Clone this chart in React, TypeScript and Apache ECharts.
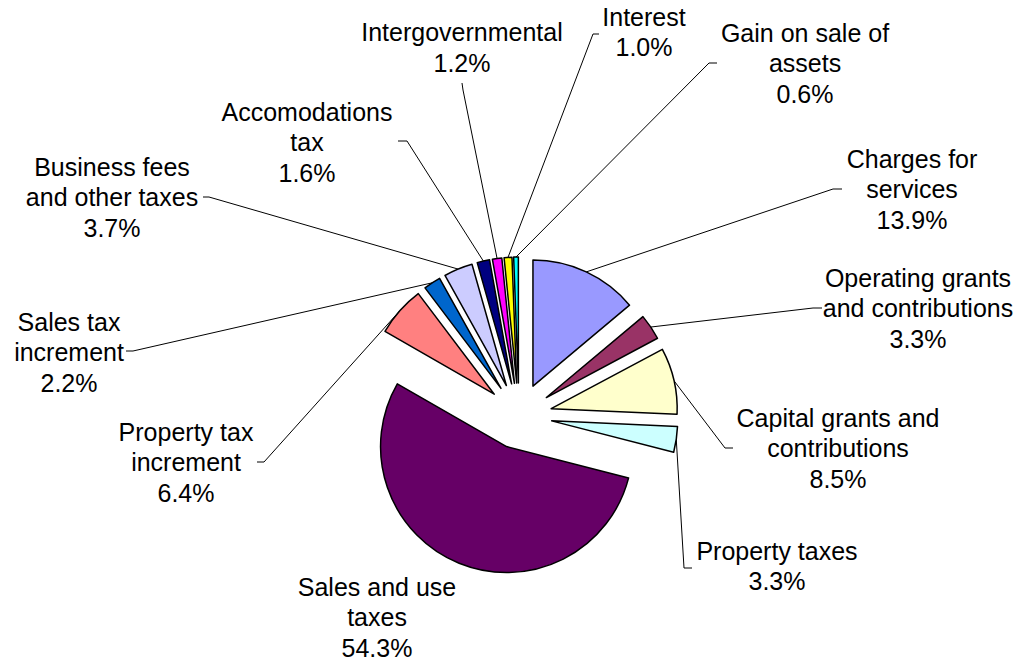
import { useEffect, useRef } from 'react';
import * as echarts from 'echarts';

// ---- data ----
const categories: string[] = [
  'Charges for\nservices',
  'Operating grants\nand contributions',
  'Capital grants and\ncontributions',
  'Property taxes',
  'Sales and use\ntaxes',
  'Property tax\nincrement',
  'Sales tax\nincrement',
  'Business fees\nand other taxes',
  'Accomodations\ntax',
  'Intergovernmental',
  'Interest',
  'Gain on sale of\nassets',
];
const shares: number[] = [13.9, 3.3, 8.5, 3.3, 54.3, 6.4, 2.2, 3.7, 1.6, 1.2, 1.0, 0.6];

// ---- styles ----
const colors: string[] = [
  '#9999FF', '#993366', '#FFFFCC', '#CCFFFF', '#660066', '#FF8080',
  '#0066CC', '#CCCCFF', '#000080', '#FF00FF', '#FFFF00', '#00FFFF',
];

// ---- layout ----
const PIE_CENTER = [519, 416];
const PIE_RADIUS = 126;
const EXPLODE = 33;
const FONT = 'Arial, "Liberation Sans", sans-serif';

type Placement = { x: number; y: number; elbow: number[] | null; end: number[] | null };
const labelPlacement: Placement[] = [
  { x: 912, y: 189, elbow: [833, 189], end: [842, 189] },
  { x: 918, y: 308, elbow: [813, 308], end: [822, 308] },
  { x: 838, y: 448, elbow: [725, 448], end: [733, 448] },
  { x: 777, y: 566, elbow: [684, 568], end: [692, 568] },
  { x: 377, y: 617, elbow: null, end: null },
  { x: 186, y: 462, elbow: [264, 462], end: [257, 462] },
  { x: 69, y: 352, elbow: [133, 351], end: [126, 351] },
  { x: 112, y: 197, elbow: [209, 197], end: [203, 197] },
  { x: 307, y: 142, elbow: [407, 141], end: [398, 141] },
  { x: 462, y: 47.5, elbow: [463, 90], end: [462, 83] },
  { x: 644, y: 32, elbow: [593, 34], end: [599, 34] },
  { x: 805, y: 63, elbow: [709, 63], end: [717, 63] },
];

function buildOption() {
  const total = shares.reduce((a, b) => a + b, 0);
  let cum = 0;
  const series: any[] = [];
  shares.forEach((v, i) => {
    const mid = ((cum + v / 2) / total) * Math.PI * 2;
    cum += v;
    const cx = PIE_CENTER[0] + EXPLODE * Math.sin(mid);
    const cy = PIE_CENTER[1] - EXPLODE * Math.cos(mid);
    const arcMid = [cx + PIE_RADIUS * Math.sin(mid), cy - PIE_RADIUS * Math.cos(mid)];
    const place = labelPlacement[i];
    series.push({
      type: 'pie',
      center: [cx, cy],
      radius: PIE_RADIUS,
      startAngle: 90,
      clockwise: true,
      avoidLabelOverlap: false,
      silent: true,
      emphasis: { disabled: true },
      label: {
        show: false,
        position: 'outside',
        color: '#000',
        fontFamily: FONT,
        fontSize: 25,
        lineHeight: 30.5,
        align: 'center',
        formatter: (p: any) => `${p.name}\n${Number(p.value).toFixed(1)}%`,
      },
      labelLine: { show: false },
      data: categories.map((name, j) =>
        j === i
          ? {
              name,
              value: shares[j],
              itemStyle: { color: colors[j], borderColor: '#000', borderWidth: 1.5 },
              label: { show: true },
              labelLine: {
                show: place.elbow != null,
                length: 10,
                length2: 6,
                lineStyle: { color: '#000', width: 1 },
              },
            }
          : {
              name,
              value: shares[j],
              itemStyle: { color: 'rgba(0,0,0,0)', borderWidth: 0 },
              label: { show: false },
              labelLine: { show: false },
            }
      ),
      labelLayout: (params: any) => {
        if (params.dataIndex !== i) return {};
        const res: any = { x: place.x, y: place.y, align: 'center', verticalAlign: 'middle' };
        if (place.elbow && place.end) {
          const p0 =
            params.labelLinePoints && params.labelLinePoints[0]
              ? params.labelLinePoints[0]
              : arcMid;
          res.labelLinePoints = [p0, place.elbow, place.end];
        }
        return res;
      },
    });
  });
  return {
    animation: false,
    backgroundColor: '#fff',
    series,
  };
}

export default function App() {
  const ref = useRef<HTMLDivElement>(null);
  useEffect(() => {
    const chart = echarts.init(ref.current!, null, { renderer: 'svg' });
    chart.setOption(buildOption() as any);
    return () => chart.dispose();
  }, []);
  return (
    <div
      ref={ref}
      style={{ position: 'fixed', left: 0, top: 0, width: 1018, height: 660, background: '#fff' }}
    />
  );
}
